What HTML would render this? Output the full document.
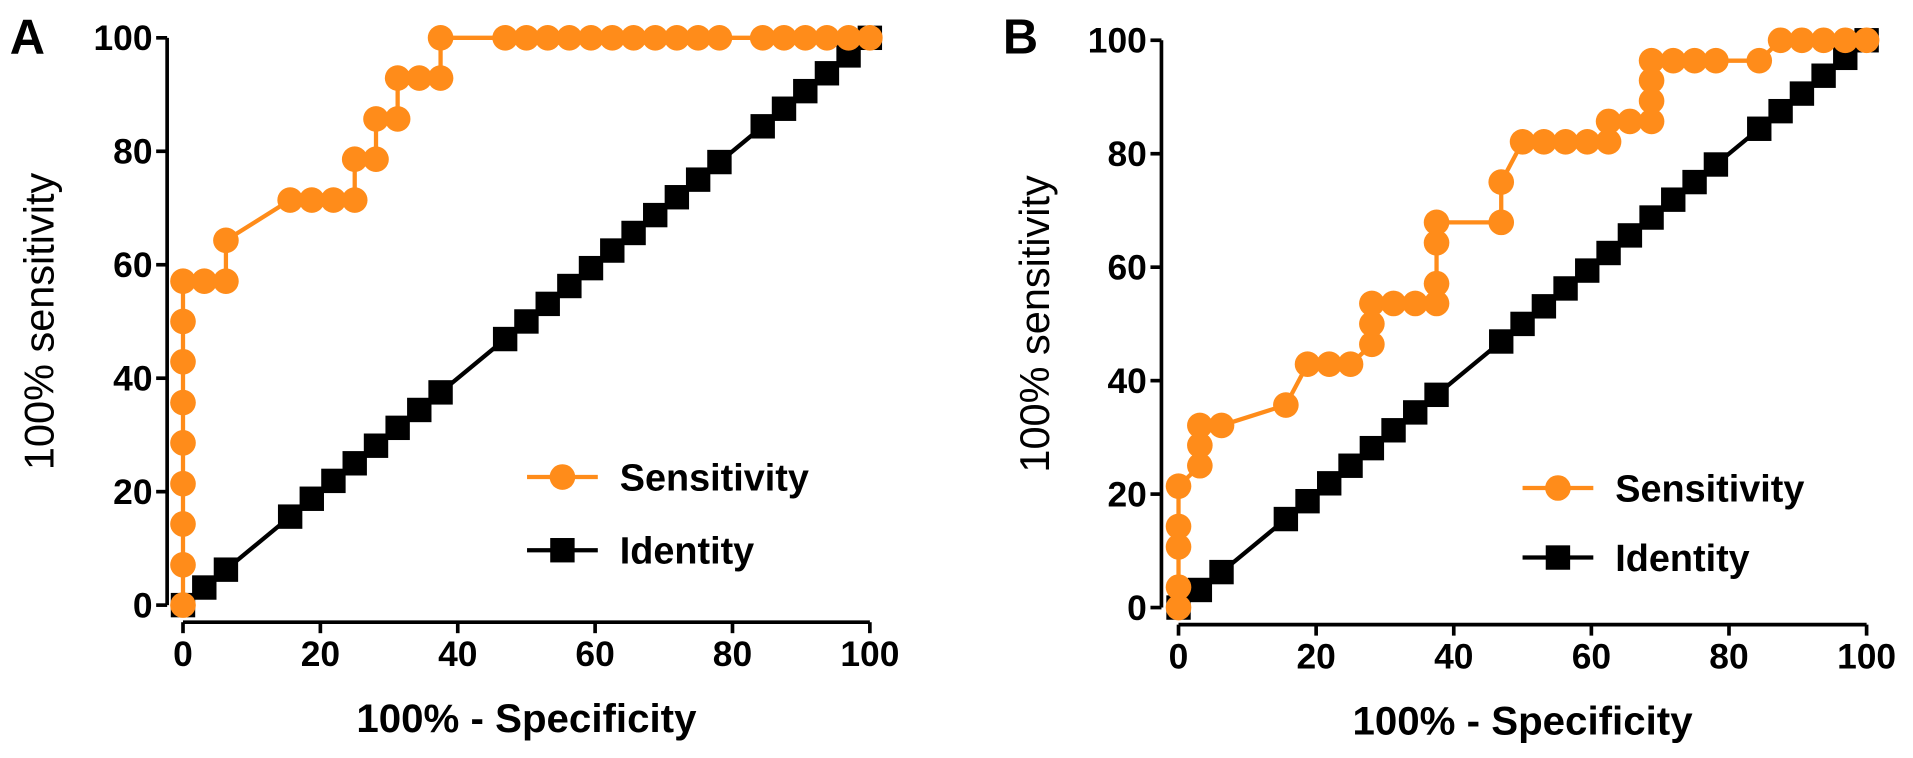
<!DOCTYPE html>
<html><head><meta charset="utf-8"><style>
html,body{margin:0;padding:0;background:#fff;}
svg{display:block;font-family:"Liberation Sans",Arial,sans-serif;}
</style></head><body>
<svg id="fig" width="1913" height="758" viewBox="0 0 1913 758"><g id="root" transform="scale(1.22)"></g></svg>
<script>
const xTicks=[0,20,40,60,80,100];
const yTicks=[0,20,40,60,80,100];
const aSensX=[0,0,0,0,0,0,0,0,0,3.1,6.25,6.25,15.6,18.75,21.9,25,25,28.1,28.1,31.25,31.25,34.4,37.5,37.5,46.9,50,53.1,56.25,59.4,62.5,65.6,68.75,71.9,75,78.1,84.4,87.5,90.6,93.75,96.9,100];
const aSensY=[0,7.1,14.3,21.4,28.6,35.7,42.9,50,57.1,57.1,57.1,64.3,71.4,71.4,71.4,71.4,78.6,78.6,85.7,85.7,92.9,92.9,92.9,100,100,100,100,100,100,100,100,100,100,100,100,100,100,100,100,100,100];
const aIdX=[0,3.1,6.25,15.6,18.75,21.9,25,28.1,31.25,34.4,37.5,46.9,50,53.1,56.25,59.4,62.5,65.6,68.75,71.9,75,78.1,84.4,87.5,90.6,93.75,96.9,100];
const aIdY=[0,3.1,6.25,15.6,18.75,21.9,25,28.1,31.25,34.4,37.5,46.9,50,53.1,56.25,59.4,62.5,65.6,68.75,71.9,75,78.1,84.4,87.5,90.6,93.75,96.9,100];
const bSensX=[0,0,0,0,0,3.1,3.1,3.1,6.25,15.6,18.75,21.9,25,28.1,28.1,28.1,31.25,34.4,37.5,37.5,37.5,37.5,46.9,46.9,50,53.1,56.25,59.4,62.5,62.5,65.6,68.75,68.75,68.75,68.75,71.9,75,78.1,84.4,87.5,90.6,93.75,96.9,100];
const bSensY=[0,3.6,10.7,14.3,21.4,25,28.6,32.1,32.1,35.7,42.9,42.9,42.9,46.4,50,53.6,53.6,53.6,53.6,57.1,64.3,67.9,67.9,75,82.1,82.1,82.1,82.1,82.1,85.7,85.7,85.7,89.3,92.9,96.4,96.4,96.4,96.4,96.4,100,100,100,100,100];
const bIdX=aIdX.slice();
const bIdY=aIdY.slice();

const NS="http://www.w3.org/2000/svg";
const svg=document.getElementById('root');
function mk(tag,attrs,parent){const e=document.createElementNS(NS,tag);for(const k in attrs)e.setAttribute(k,attrs[k]);(parent||svg).appendChild(e);return e;}
const ORANGE="#ff8c1a";

function panel(p){
  const g=mk('g',{});
  
  
  const sx=v=>p.x0+(p.x1-p.x0)*v/100;
  const sy=v=>p.y0+(p.y1-p.y0)*v/100;
  const lab=mk('text',{x:p.lx,y:44,'font-size':40,'font-weight':'bold',fill:'#000'},g);lab.textContent=p.id;
  
  
  const ya=mk('line',{x1:p.ax,y1:sy(100),x2:p.ax,y2:sy(0),stroke:'#000','stroke-width':3},g);
  
  
  const xa=mk('line',{x1:sx(0),y1:p.ay,x2:sx(100),y2:p.ay,stroke:'#000','stroke-width':3},g);
  
  
  yTicks.forEach(v=>{
    mk('line',{x1:p.ax-9,y1:sy(v),x2:p.ax,y2:sy(v),stroke:'#000','stroke-width':3},g);
    const t=mk('text',{x:p.ax-12,y:sy(v)+10,'font-size':29,'font-weight':'bold','text-anchor':'end'},g);t.textContent=v;
    
    
  });
  xTicks.forEach(v=>{
    mk('line',{x1:sx(v),y1:p.ay,x2:sx(v),y2:p.ay+9,stroke:'#000','stroke-width':3},g);
    const t=mk('text',{x:sx(v),y:p.ay+36,'font-size':29,'font-weight':'bold','text-anchor':'middle'},g);t.textContent=v;
    
    
  });
  const xt=mk('text',{x:(sx(0)+sx(100))/2,y:p.ay+90,'font-size':33,'font-weight':'bold','text-anchor':'middle'},g);xt.textContent='100% - Specificity';
  
  
  const yt=mk('text',{x:0,y:0,'font-size':34,'text-anchor':'middle',transform:`translate(${p.ytx},${(sy(0)+sy(100))/2}) rotate(-90)`},g);yt.textContent='100% sensitivity';
  
  
  const idp=p.idX.map((v,i)=>sx(v)+','+sy(p.idY[i])).join(' ');
  const il=mk('polyline',{points:idp,fill:'none',stroke:'#000','stroke-width':3.5},g);
  
  
  p.idX.forEach((v,i)=>{
    const r=mk('rect',{x:sx(v)-10,y:sy(p.idY[i])-10,width:20,height:20,fill:'#000'},g);
    
    
  });
  const sp=p.sX.map((v,i)=>sx(v)+','+sy(p.sY[i])).join(' ');
  const sl=mk('polyline',{points:sp,fill:'none',stroke:ORANGE,'stroke-width':3.5},g);
  
  
  p.sX.forEach((v,i)=>{
    const c=mk('circle',{cx:sx(v),cy:sy(p.sY[i]),r:10.5,fill:ORANGE},g);
    
    
  });
  [[p.leg1y,'Sensitivity',true],[p.leg2y,'Identity',false]].forEach(([y,txt,orange])=>{
    const lg=mk('g',{},g);
    
    
    mk('line',{x1:p.legx,y1:y,x2:p.legx+58,y2:y,stroke:orange?ORANGE:'#000','stroke-width':3.5},lg);
    if(orange)mk('circle',{cx:p.legx+29,cy:y,r:10.5,fill:ORANGE},lg);
    else mk('rect',{x:p.legx+19,y:y-10,width:20,height:20,fill:'#000'},lg);
    const t=mk('text',{x:p.legx+76,y:y+11,'font-size':31,'font-weight':'bold'},lg);t.textContent=txt;
  });
}
panel({id:'A',lx:8,x0:150,x1:713,y0:496,y1:31,ax:137,ay:510,ytx:44,legx:432,leg1y:391,leg2y:451,sX:aSensX,sY:aSensY,idX:aIdX,idY:aIdY});
panel({id:'B',lx:822,x0:966,x1:1530,y0:498,y1:33,ax:952,ay:512,ytx:860,legx:1248,leg1y:400,leg2y:457,sX:bSensX,sY:bSensY,idX:bIdX,idY:bIdY});
</script>
</body></html>
